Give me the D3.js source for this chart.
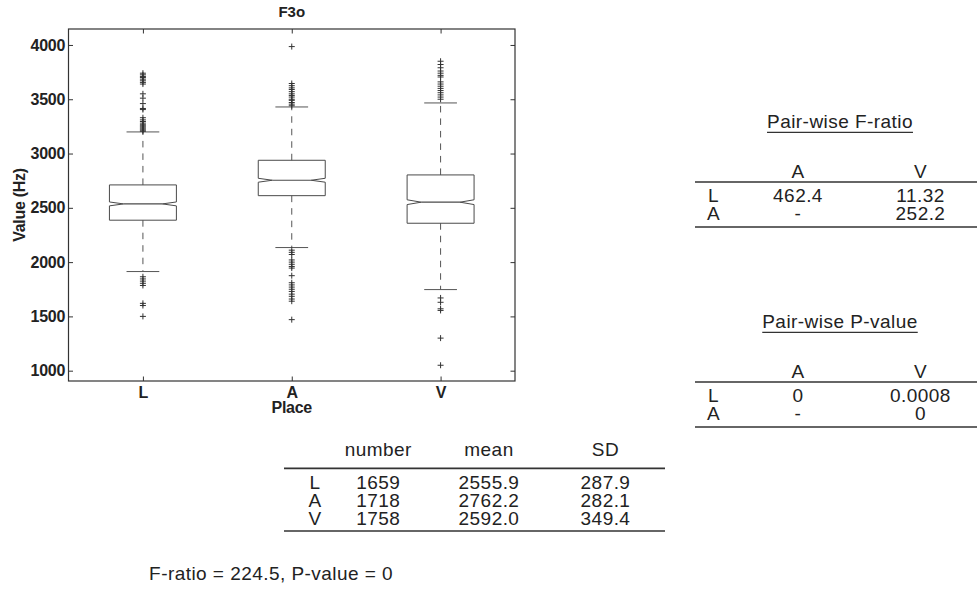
<!DOCTYPE html>
<html>
<head>
<meta charset="utf-8">
<script src="https://cdn.jsdelivr.net/npm/d3@7"></script>
<style>
  html, body { margin: 0; padding: 0; background: #fff; }
  svg { display: block; font-family: "Liberation Sans", Arial, Helvetica, sans-serif; }
</style>
</head>
<body>
<svg id="chart" width="977" height="592"></svg>
<script>
// ---------------- data ----------------
const title = "F3o";
const categories = ["L", "A", "V"];
const q1 = [2386, 2612, 2358];
const medians = [2536, 2754, 2552];
const q3 = [2711, 2938, 2803];
const whiskerLo = [1913, 2134, 1747];
const whiskerHi = [3199, 3429, 3466];
const notchHalf = [18, 18, 22];
const outliersL = [3740, 3725, 3710, 3700, 3685, 3670, 3655, 3640, 3550, 3510, 3460, 3415, 3405,
  3330, 3310, 3295, 3280, 3265, 3255, 3245, 3235, 3225, 3215, 3205,
  1865, 1845, 1825, 1805, 1785, 1620, 1600, 1500];
const outliersA = [3985, 3645, 3625, 3605, 3590, 3570, 3550, 3535, 3520, 3500, 3490, 3470, 3455, 3440,
  2110, 2090, 2070, 2020, 2000, 1980, 1960, 1945, 1875, 1810, 1790, 1770, 1750, 1730, 1705,
  1685, 1660, 1640, 1470];
const outliersV = [3850, 3820, 3790, 3760, 3740, 3720, 3705, 3660, 3640, 3620, 3600, 3580, 3560,
  3540, 3520, 3500, 1670, 1630, 1570, 1555, 1300, 1050];
const outliers = [outliersL, outliersA, outliersV];
const yDomain = [905, 4147];
const yTicks = [1000, 1500, 2000, 2500, 3000, 3500, 4000];
const yLabel = "Value (Hz)";
const xLabel = "Place";

// pair-wise tables
const pairCols = ["A", "V"];
const pairRows = ["L", "A"];
const fRatio = [["462.4", "11.32"], ["-", "252.2"]];
const pValue = [["0", "0.0008"], ["-", "0"]];

// summary table
const sumCols = ["number", "mean", "SD"];
const sumRows = ["L", "A", "V"];
const sumNumber = ["1659", "1718", "1758"];
const sumMean = ["2555.9", "2762.2", "2592.0"];
const sumSD = ["287.9", "282.1", "349.4"];
const overall = "F-ratio = 224.5, P-value = 0";

// ---------------- layout ----------------
const svg = d3.select("#chart");
const plot = { left: 68.5, right: 515, top: 29, bottom: 381 };
const ink = "#222";
const boxColor = "#4a4a4a";
const whiskColor = "#555";
const tick = 4.5;

const x = d3.scalePoint().domain(categories).range([plot.left, plot.right]).padding(0.5);
const y = d3.scaleLinear().domain(yDomain).range([plot.bottom, plot.top]);
const step = x.step();
const hw = step * 0.225;     // half box width
const capHw = step * 0.11;   // half cap width
const inset = hw * 0.42;     // notch depth

const g = svg.append("g");

// axes with inward ticks
function styleAxis(sel) {
  sel.select(".domain").remove();
  sel.selectAll(".tick line").attr("stroke", "#333").attr("stroke-width", 1);
}
g.append("g").attr("transform", `translate(${plot.left},0)`)
  .call(d3.axisLeft(y).tickValues(yTicks).tickSizeInner(-tick).tickSizeOuter(0).tickPadding(3.5).tickFormat(d3.format("d")))
  .call(styleAxis)
  .call(s => s.selectAll("text").attr("fill", ink).attr("font-size", 16).attr("font-weight", "bold")
    .attr("font-family", "'Liberation Sans', Arial, sans-serif").attr("letter-spacing", -0.3));
g.append("g").attr("transform", `translate(${plot.right},0)`)
  .call(d3.axisRight(y).tickValues(yTicks).tickSizeInner(-tick).tickSizeOuter(0).tickFormat(""))
  .call(styleAxis);
g.append("g").attr("transform", `translate(0,${plot.bottom})`)
  .call(d3.axisBottom(x).tickSizeInner(-tick).tickSizeOuter(0).tickPadding(6))
  .call(styleAxis)
  .call(s => s.selectAll("text").attr("fill", ink).attr("font-size", 16).attr("font-weight", "bold")
    .attr("font-family", "'Liberation Sans', Arial, sans-serif"));
g.append("g").attr("transform", `translate(0,${plot.top})`)
  .call(d3.axisTop(x).tickSizeInner(-tick).tickSizeOuter(0).tickFormat(""))
  .call(styleAxis);

// frame
g.append("rect").attr("x", plot.left).attr("y", plot.top)
  .attr("width", plot.right - plot.left).attr("height", plot.bottom - plot.top)
  .attr("fill", "none").attr("stroke", "#333").attr("stroke-width", 1.2);

// boxes
categories.forEach((c, i) => {
  const cx = x(c);
  const gg = g.append("g");
  gg.append("line").attr("x1", cx).attr("x2", cx).attr("y1", y(q3[i])).attr("y2", y(whiskerHi[i]))
    .attr("stroke", whiskColor).attr("stroke-width", 1).attr("stroke-dasharray", "6.5,6");
  gg.append("line").attr("x1", cx).attr("x2", cx).attr("y1", y(q1[i])).attr("y2", y(whiskerLo[i]))
    .attr("stroke", whiskColor).attr("stroke-width", 1).attr("stroke-dasharray", "6.5,6");
  [whiskerHi[i], whiskerLo[i]].forEach(v => {
    gg.append("line").attr("x1", cx - capHw).attr("x2", cx + capHw).attr("y1", y(v)).attr("y2", y(v))
      .attr("stroke", whiskColor).attr("stroke-width", 1);
  });
  const L = cx - hw, R = cx + hw;
  const pts = [
    [L, y(q3[i])], [R, y(q3[i])], [R, y(medians[i] + notchHalf[i])], [R - inset, y(medians[i])],
    [R, y(medians[i] - notchHalf[i])], [R, y(q1[i])], [L, y(q1[i])], [L, y(medians[i] - notchHalf[i])],
    [L + inset, y(medians[i])], [L, y(medians[i] + notchHalf[i])]
  ];
  gg.append("path").attr("d", d3.line()(pts) + "Z").attr("fill", "none")
    .attr("stroke", boxColor).attr("stroke-width", 1);
  gg.append("line").attr("x1", L + inset).attr("x2", R - inset)
    .attr("y1", y(medians[i])).attr("y2", y(medians[i])).attr("stroke", boxColor).attr("stroke-width", 1.2);
  const a = 3;
  outliers[i].forEach(v => {
    gg.append("path").attr("d", `M${cx - a},${y(v)}H${cx + a}M${cx},${y(v) - a}V${y(v) + a}`)
      .attr("stroke", "#333").attr("stroke-width", 1).attr("fill", "none");
  });
});

// titles and labels
svg.append("text").attr("x", x("A")).attr("y", 16.5).attr("text-anchor", "middle")
  .attr("font-size", 15).attr("font-weight", "bold").attr("fill", ink).text(title);
svg.append("text").attr("transform", `translate(25,${(plot.top + plot.bottom) / 2}) rotate(-90)`)
  .attr("text-anchor", "middle").attr("font-size", 16).attr("font-weight", "bold").attr("fill", ink)
  .attr("letter-spacing", -0.3).text(yLabel);
svg.append("text").attr("x", x("A")).attr("y", 413).attr("text-anchor", "middle")
  .attr("font-size", 16).attr("font-weight", "bold").attr("fill", ink).attr("letter-spacing", -0.3).text(xLabel);

// ---------------- tables ----------------
const tFont = 19;
const tSpace = 0.45;
const lineColor = "#333";
function pairTable(top, heading, values) {
  const tg = svg.append("g").attr("fill", ink).attr("font-size", tFont).attr("letter-spacing", tSpace);
  const t = tg.append("text").attr("x", 840).attr("y", top + 28).attr("text-anchor", "middle").text(heading);
  const w = t.node().getComputedTextLength();
  tg.append("line").attr("x1", 840 - w / 2).attr("x2", 840 + w / 2).attr("y1", top + 32.3).attr("y2", top + 32.3)
    .attr("stroke", lineColor).attr("stroke-width", 1.3);
  const colX = [798, 920.5];
  pairCols.forEach((c, j) => tg.append("text").attr("x", colX[j]).attr("y", top + 78).attr("text-anchor", "middle").text(c));
  tg.append("line").attr("x1", 695).attr("x2", 977).attr("y1", top + 82).attr("y2", top + 82)
    .attr("stroke", lineColor).attr("stroke-width", 1.6);
  pairRows.forEach((r, i) => {
    const by = top + 101.5 + i * 18;
    tg.append("text").attr("x", 713.5).attr("y", by).attr("text-anchor", "middle").text(r);
    values[i].forEach((v, j) => tg.append("text").attr("x", colX[j]).attr("y", by).attr("text-anchor", "middle").text(v));
  });
  tg.append("line").attr("x1", 695).attr("x2", 977).attr("y1", top + 127).attr("y2", top + 127)
    .attr("stroke", lineColor).attr("stroke-width", 1.6);
}
pairTable(100, "Pair-wise F-ratio", fRatio);
pairTable(300, "Pair-wise P-value", pValue);

// summary table
const st = svg.append("g").attr("fill", ink).attr("font-size", tFont).attr("letter-spacing", tSpace);
const sColX = [378.3, 489, 605.5];
sumCols.forEach((c, j) => st.append("text").attr("x", sColX[j]).attr("y", 455.5).attr("text-anchor", "middle").text(c));
st.append("line").attr("x1", 284).attr("x2", 665).attr("y1", 468.4).attr("y2", 468.4)
  .attr("stroke", lineColor).attr("stroke-width", 1.6);
const sumVals = [sumNumber, sumMean, sumSD];
sumRows.forEach((r, i) => {
  const by = 488.5 + i * 18;
  st.append("text").attr("x", 315).attr("y", by).attr("text-anchor", "middle").text(r);
  sumVals.forEach((col, j) => st.append("text").attr("x", sColX[j]).attr("y", by).attr("text-anchor", "middle").text(col[i]));
});
st.append("line").attr("x1", 284).attr("x2", 665).attr("y1", 531).attr("y2", 531)
  .attr("stroke", lineColor).attr("stroke-width", 1.6);
st.append("text").attr("x", 393).attr("y", 580).attr("text-anchor", "end").text(overall);
</script>
</body>
</html>
